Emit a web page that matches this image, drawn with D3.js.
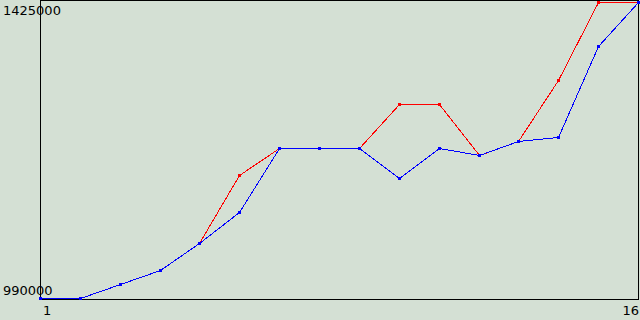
<!DOCTYPE html>
<html>
<head>
<meta charset="utf-8">
<script src="https://cdn.jsdelivr.net/npm/d3@7"></script>
<style>
  body { margin: 0; background: #d4e0d4; }
  svg { display: block; }
  text { font-family: "DejaVu Sans", sans-serif; font-size: 13px; fill: #000; }
</style>
</head>
<body>
<div id="chart"></div>
<script>
// x positions 1..16
const xValues = d3.range(1, 17);
const redValues = [990000, 990000, 1010600, 1031200, 1070900, 1170800, 1210500, 1210500,
                   1210500, 1275200, 1275200, 1200200, 1220800, 1310500, 1425000, 1425000];
const blueValues = [990000, 990000, 1010600, 1031200, 1070900, 1116400, 1210500, 1210500,
                    1210500, 1166400, 1210500, 1200200, 1220800, 1226700, 1360400, 1425000];
const yTicks = [990000, 1425000];
const xTicks = [1, 16];

const width = 640, height = 320;
const margin = {top: 2, right: 2, bottom: 22, left: 40};

const svg = d3.select('#chart').append('svg')
    .attr('width', width)
    .attr('height', height);

svg.append('rect')
    .attr('width', width).attr('height', height)
    .attr('fill', '#d4e0d4');

const x = d3.scaleLinear().domain([1, 16]).range([margin.left, width - margin.right]);
const y = d3.scaleLinear().domain([990000, 1425000]).range([height - margin.bottom, margin.top]);

// plot frame
svg.append('rect')
    .attr('x', margin.left + 0.5)
    .attr('y', 0.5)
    .attr('width', width - margin.right - margin.left - 0.5)
    .attr('height', height - margin.bottom + 0.5)
    .attr('fill', 'none')
    .attr('stroke', '#000')
    .attr('stroke-width', 1)
    .attr('shape-rendering', 'crispEdges');

// y tick labels
svg.selectAll('.ylabel')
    .data(yTicks)
    .join('text')
    .attr('class', 'ylabel')
    .attr('x', 3)
    .attr('y', d => d === yTicks[0] ? 295 : 15)
    .text(d => d);

// x tick labels
svg.selectAll('.xlabel')
    .data(xTicks)
    .join('text')
    .attr('class', 'xlabel')
    .attr('x', d => d === 1 ? x(d) + 3 : x(d) + 1)
    .attr('y', 315)
    .attr('text-anchor', d => d === 1 ? 'start' : 'end')
    .text(d => d);

const line = d3.line()
    .x((d, i) => Math.round(x(xValues[i])) + 0.5)
    .y(d => Math.round(y(d)) + 0.5);

function drawSeries(values, color) {
    svg.append('path')
        .datum(values)
        .attr('fill', 'none')
        .attr('stroke', color)
        .attr('stroke-width', 1)
        .attr('shape-rendering', 'crispEdges')
        .attr('d', line);

    svg.append('g').selectAll('rect')
        .data(values)
        .join('rect')
        .attr('x', (d, i) => Math.round(x(xValues[i])) - 1)
        .attr('y', d => Math.round(y(d)) - 1)
        .attr('width', 3)
        .attr('height', 3)
        .attr('fill', color)
        .attr('shape-rendering', 'crispEdges');
}

drawSeries(redValues, '#ff0000');
drawSeries(blueValues, '#0000ff');
</script>
</body>
</html>
